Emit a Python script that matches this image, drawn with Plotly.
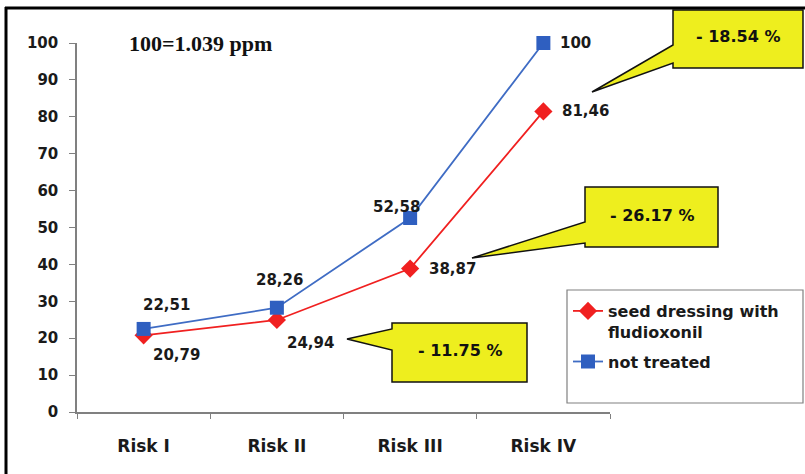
import plotly.graph_objects as go

categories = ["Risk I", "Risk II", "Risk III", "Risk IV"]
treated = [20.79, 24.94, 38.87, 81.46]
untreated = [22.51, 28.26, 52.58, 100]
y_ticks = [0, 10, 20, 30, 40, 50, 60, 70, 80, 90, 100]
callout_texts = ["- 11.75 %", "- 26.17 %", "- 18.54 %"]

W, H = 805, 474
L, R, T, B = 77, 610, 43, 412  # plot area in pixels

def px(x):
    return (x - L) / (R - L)

def py(y):
    return (B - y) / (B - T)

def path(points):
    return "M " + " L ".join(f"{px(a):.5f},{py(b):.5f}" for a, b in points) + " Z"

RED = "#f02020"
BLUE = "#3f6cc4"
FONT = "DejaVu Sans"

fig = go.Figure()
fig.add_trace(go.Scatter(
    x=categories, y=treated, mode="lines+markers",
    name="seed dressing with<br>fludioxonil", legendgroup="a",
    line=dict(color=RED, width=1.8),
    marker=dict(symbol="diamond", size=14, color=RED),
    cliponaxis=False,
))
fig.add_trace(go.Scatter(
    x=categories, y=untreated, mode="lines+markers",
    name="not treated", legendgroup="b",
    line=dict(color=BLUE, width=1.8),
    marker=dict(symbol="square", size=14, color="#2f5fc0"),
    cliponaxis=False,
))

def fmt(v):
    s = f"{v:.2f}".rstrip("0").rstrip(".") if v != int(v) else str(int(v))
    return s.replace(".", ",")

# data label offsets (pixels) per point
treated_off = [(33, -20), (34, -23), (42, 0), (42, 0)]
untreated_off = [(23, 24), (3, 28), (-14, 11), (32, 0)]

ann = []
for i, c in enumerate(categories):
    for vals, offs in ((treated, treated_off), (untreated, untreated_off)):
        dx, dy = offs[i]
        ann.append(dict(x=c, y=vals[i], xref="x", yref="y", text=f"<b>{fmt(vals[i])}</b>",
                        showarrow=False, xshift=dx, yshift=dy,
                        font=dict(family=FONT, size=15, color="#1a1a1a")))

ann.append(dict(x=px(127), y=py(43), xref="paper", yref="paper", xanchor="left", yanchor="middle",
                text="<b>100=1.039 ppm</b>", showarrow=False,
                font=dict(family="Liberation Serif", size=22, color="#111111")))

callouts = [
    ((392, 323, 527, 382), [(392, 323), (527, 323), (527, 382), (392, 382), (392, 350), (347, 339), (392, 329)]),
    ((585, 187, 718, 247), [(585, 187), (718, 187), (718, 247), (585, 247), (585, 243), (472, 258), (585, 222)]),
    ((673, 10, 803, 68), [(673, 10), (803, 10), (803, 68), (673, 68), (673, 63), (592, 92), (673, 45)]),
]

shapes = []
for (x0, y0, x1, y1), pts in callouts:
    shapes.append(dict(type="path", xref="paper", yref="paper", path=path(pts),
                       fillcolor="#eeee1e", line=dict(color="#111111", width=1.5), layer="above"))

for txt, ((x0, y0, x1, y1), _) in zip(callout_texts, callouts):
    ann.append(dict(x=px((x0 + x1) / 2), y=py((y0 + y1) / 2 - 2), xref="paper", yref="paper",
                    xanchor="center", yanchor="middle",
                    text=f"<b>{txt}</b>", showarrow=False,
                    font=dict(family=FONT, size=16, color="#111111")))

# legend box
shapes.append(dict(type="rect", xref="paper", yref="paper",
                   x0=px(567), x1=px(803), y0=py(403), y1=py(290),
                   line=dict(color="#808080", width=1.2), fillcolor="rgba(0,0,0,0)", layer="below"))
# outer frame (left and top edges)
shapes.append(dict(type="line", xref="paper", yref="paper", x0=px(6), x1=px(6), y0=py(7), y1=py(480),
                   line=dict(color="#000000", width=3)))
shapes.append(dict(type="line", xref="paper", yref="paper", x0=px(5), x1=px(810), y0=py(8), y1=py(8),
                   line=dict(color="#000000", width=3)))

fig.update_layout(
    width=W, height=H,
    margin=dict(l=L, r=W - R, t=T, b=H - B, pad=0),
    paper_bgcolor="white", plot_bgcolor="white",
    showlegend=True,
    legend=dict(x=px(568), y=py(294), xanchor="left", yanchor="top",
                bgcolor="rgba(0,0,0,0)", borderwidth=0, valign="top",
                font=dict(family=FONT, size=16, color="#1a1a1a", weight="bold"),
                itemwidth=30, tracegroupgap=6),
    annotations=ann,
    shapes=shapes,
    xaxis=dict(range=[-0.5, 3.5], showgrid=False, zeroline=False,
               showline=True, linecolor="#808080", linewidth=1.5,
               ticks="outside", ticklen=5, tickcolor="#808080", tickson="boundaries",
               tickfont=dict(family=FONT, size=17, color="#1a1a1a", weight="bold"),
               ticklabelstandoff=18, fixedrange=True),
    yaxis=dict(range=[0, 100], tickvals=y_ticks, showgrid=False, zeroline=False,
               showline=True, linecolor="#808080", linewidth=1.5,
               ticks="outside", ticklen=6, tickcolor="#808080",
               tickfont=dict(family=FONT, size=15, color="#1a1a1a", weight="bold"),
               ticklabelstandoff=8, fixedrange=True),
)
fig.data[0].legendrank = 1
fig.data[1].legendrank = 2

fig.write_html("out.html", config={"displayModeBar": False},
               post_script="document.body.style.margin='0';")
